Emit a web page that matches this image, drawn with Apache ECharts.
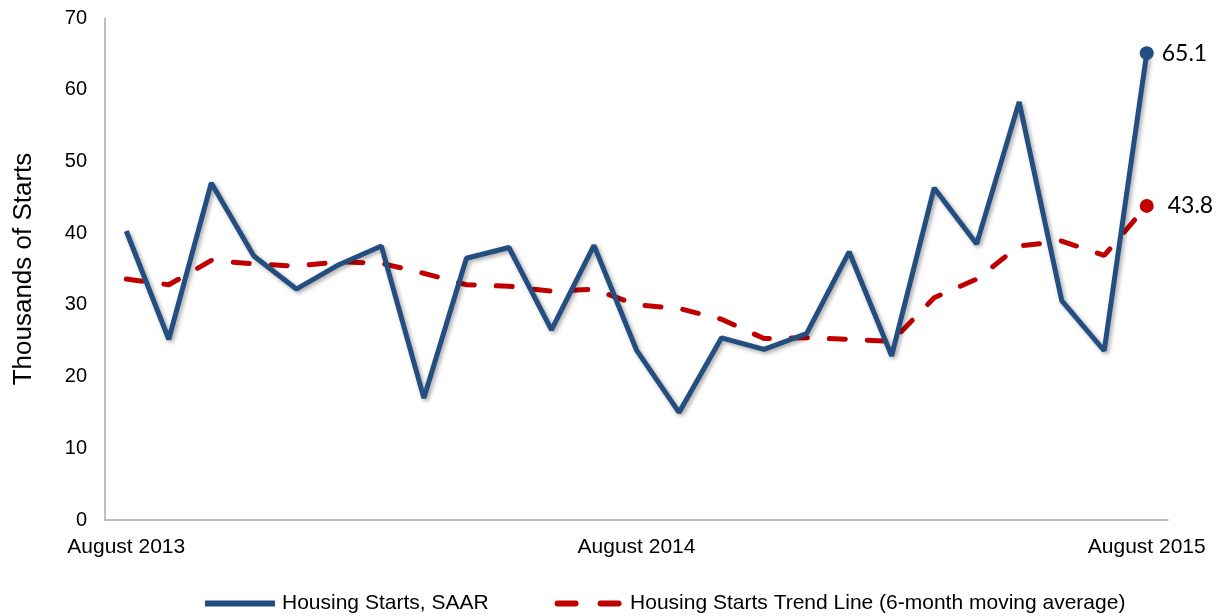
<!DOCTYPE html>
<html>
<head>
<meta charset="utf-8">
<script src="https://cdn.jsdelivr.net/npm/echarts@6/dist/echarts.min.js"></script>
<style>
  html, body { margin: 0; padding: 0; background: #fff; }
  #container { width: 1220px; height: 616px; }
</style>
</head>
<body>
<div id="container"></div>
<script>
var months = ['Aug 2013', 'Sep 2013', 'Oct 2013', 'Nov 2013', 'Dec 2013', 'Jan 2014', 'Feb 2014', 'Mar 2014',
    'Apr 2014', 'May 2014', 'Jun 2014', 'Jul 2014', 'Aug 2014', 'Sep 2014', 'Oct 2014', 'Nov 2014',
    'Dec 2014', 'Jan 2015', 'Feb 2015', 'Mar 2015', 'Apr 2015', 'May 2015', 'Jun 2015', 'Jul 2015', 'Aug 2015'];
var tickLabels = {0: 'August 2013', 12: 'August 2014', 24: 'August 2015'};

var starts = [40.3, 25.2, 47.0, 36.8, 32.2, 35.6, 38.2, 17.0, 36.5, 38.0, 26.5, 38.3,
    23.7, 15.0, 25.4, 23.8, 26.0, 37.4, 22.9, 46.3, 38.5, 58.3, 30.6, 23.6, 65.1];
var trend = [33.6, 32.8, 36.2, 35.7, 35.4, 36.0, 35.8, 34.4, 32.8, 32.6, 31.9, 32.2,
    30.0, 29.5, 28.0, 25.3, 25.4, 25.2, 24.9, 31.0, 33.6, 38.2, 38.9, 36.9, 43.8];

var BLUE = '#254e80';
var RED = '#c00000';

// only the last point gets a marker and a label
function lastMarked(values, color, labelDist) {
    return values.map(function (v, i) {
        if (i < values.length - 1) {
            return {value: v, symbol: 'none'};
        }
        return {
            value: v,
            symbol: 'circle',
            symbolSize: 14,
            itemStyle: {color: color},
            label: {
                show: true,
                position: 'right',
                distance: labelDist,
                formatter: function (p) { return p.value.toFixed(1); },
                color: '#000',
                fontSize: 23,
                fontFamily: 'Lato'
            }
        };
    });
}

var dom = document.getElementById('container');
var myChart = echarts.init(dom);

var option = {
    animation: false,
    grid: {left: 105, right: 52, top: 18, bottom: 96},
    legend: {
        top: 588,
        left: 200,
        itemWidth: 70,
        itemHeight: 6,
        itemGap: 66,
        textStyle: {fontSize: 21, fontFamily: 'Liberation Sans', color: '#000', padding: [0, 0, 0, 2]},
        data: [{
            name: 'Housing Starts, SAAR',
            icon: 'rect'
        }, {
            name: 'Housing Starts Trend Line (6-month moving average)',
            icon: 'path://M3,0h18a3,3 0 0 1 0,6h-18a3,3 0 0 1 0,-6z M46,0h18a3,3 0 0 1 0,6h-18a3,3 0 0 1 0,-6z'
        }]
    },
    xAxis: {
        type: 'category',
        data: months,
        boundaryGap: true,
        axisLine: {lineStyle: {color: '#aaaaaa', width: 1.5}},
        axisTick: {show: false},
        axisLabel: {
            interval: 0,
            margin: 17,
            fontSize: 21,
            fontFamily: 'Liberation Sans',
            color: '#000',
            formatter: function (v, i) { return tickLabels[i] || ''; }
        },
        splitLine: {show: false}
    },
    yAxis: {
        type: 'value',
        min: 0,
        max: 70,
        interval: 10,
        name: 'Thousands of Starts',
        nameLocation: 'middle',
        nameGap: 68,
        nameRotate: 90,
        nameTextStyle: {fontSize: 26, fontFamily: 'Liberation Sans', color: '#000'},
        axisLine: {show: true, lineStyle: {color: '#aaaaaa', width: 1.5}},
        axisTick: {show: false},
        axisLabel: {margin: 18, fontSize: 20, fontFamily: 'Liberation Sans', color: '#000'},
        splitLine: {show: false}
    },
    series: [{
        name: 'Housing Starts, SAAR',
        type: 'line',
        data: lastMarked(starts, BLUE, 8),
        symbol: 'none',
        z: 3,
        itemStyle: {color: BLUE},
        lineStyle: {
            color: BLUE,
            width: 5,
            shadowColor: 'rgba(0,0,0,0.35)',
            shadowBlur: 4,
            shadowOffsetX: 2,
            shadowOffsetY: 2
        }
    }, {
        name: 'Housing Starts Trend Line (6-month moving average)',
        type: 'line',
        data: lastMarked(trend, RED, 14),
        symbol: 'none',
        z: 2,
        itemStyle: {color: RED},
        lineStyle: {
            color: RED,
            width: 5,
            type: [16, 22],
            cap: 'round'
        }
    }]
};

myChart.setOption(option, true);
</script>
</body>
</html>
